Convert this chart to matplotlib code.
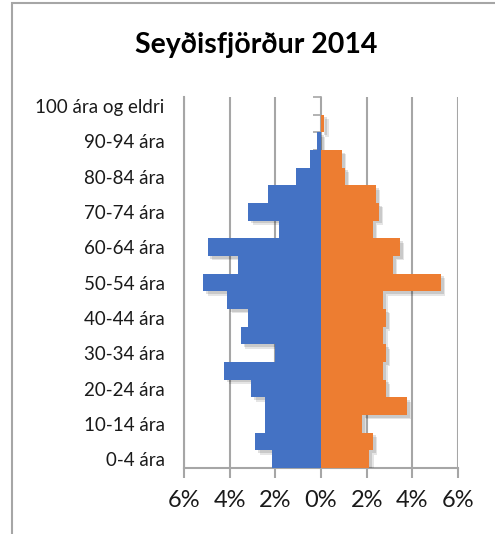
import matplotlib
matplotlib.use("Agg")
import matplotlib.pyplot as plt
import matplotlib.patheffects as pe
from matplotlib.patches import Rectangle
from matplotlib.ticker import FuncFormatter, FixedLocator

plt.rcParams['font.family'] = ['Lato', 'DejaVu Sans']

categories = ["0-4 ára", "5-9 ára", "10-14 ára", "15-19 ára", "20-24 ára", "25-29 ára",
              "30-34 ára", "35-39 ára", "40-44 ára", "45-49 ára", "50-54 ára", "55-59 ára",
              "60-64 ára", "65-69 ára", "70-74 ára", "75-79 ára", "80-84 ára", "85-89 ára",
              "90-94 ára", "95-99 ára", "100 ára og eldri"]
males = [2.13, 2.87, 2.44, 2.44, 3.05, 4.23, 2.01, 3.49, 3.18, 4.10, 5.15, 3.62,
         4.97, 1.82, 3.18, 2.30, 1.08, 0.47, 0.175, 0.0, 0.0]
females = [2.12, 2.29, 1.81, 3.78, 2.86, 2.73, 2.86, 2.73, 2.86, 2.73, 5.27, 3.15,
           3.47, 2.29, 2.55, 2.42, 1.06, 0.93, 0.0, 0.146, 0.0]
x_ticks = [-6, -4, -2, 0, 2, 4, 6]
title = "Seyðisfjörður 2014"

W, H = 495, 534
fig = plt.figure(figsize=(W / 100, H / 100), dpi=100)
ax = fig.add_axes([184 / W, 1 - 468 / H, (458 - 184) / W, (468 - 97) / H])

pos = list(range(len(categories)))
left_vals = [-v for v in males]
# soft shadows first, then bars on top so shadows only show at outer edges
for k, (off, a) in enumerate([((3, -3), 0.10), ((2, -2), 0.12)]):
    sh = [pe.SimplePatchShadow(offset=off, shadow_rgbFace='black', alpha=a)]
    ax.barh(pos, left_vals, height=1.0, color='none', zorder=2.8, path_effects=sh)
    ax.barh(pos, females, height=1.0, color='none', zorder=2.8, path_effects=sh)
ax.barh(pos, left_vals, height=1.0, color='#4472C4', zorder=3)
ax.barh(pos, females, height=1.0, color='#ED7D31', zorder=3)

ax.set_xlim(-6, 6)
ax.set_ylim(-0.5, len(categories) - 0.5)
ax.set_xticks(x_ticks)
ax.xaxis.set_major_formatter(FuncFormatter(lambda v, p: f"{abs(v):.0f}%"))
ax.grid(axis='x', color='#A6A6A6', lw=1.5)
ax.set_axisbelow(True)

ax.set_yticks(pos[::2])
ax.set_yticklabels(categories[::2])
ax.yaxis.set_minor_locator(FixedLocator([p - 0.5 for p in pos] + [pos[-1] + 0.5]))

ax.spines['top'].set_visible(False)
ax.spines['left'].set_color('#A6A6A6')
ax.spines['left'].set_linewidth(1.5)
ax.spines['bottom'].set_color('#A6A6A6')
ax.spines['bottom'].set_linewidth(1.5)
ax.spines['right'].set_position(('data', 0))
ax.spines['right'].set_color('#A6A6A6')
ax.spines['right'].set_linewidth(1.2)

ax.tick_params(axis='y', which='major', left=True, right=False, length=0, pad=14,
               labelsize=13.5, labelcolor='#1a1a1a')
ax.tick_params(axis='y', which='minor', left=False, right=True, direction='in', length=6,
               color='#A6A6A6', width=1.2)
ax.tick_params(axis='x', which='major', direction='out', length=7, color='#A6A6A6', width=1.5,
               pad=9, labelsize=17, labelcolor='#1a1a1a')

fig.text(256 / W, 1 - 45 / H, title, ha='center', va='center', fontsize=20.5, fontweight='bold',
         color='#000000')

fig.add_artist(Rectangle((12 / W, -0.1), 1.2, 1.1 - 3 / H, transform=fig.transFigure,
                         fill=False, edgecolor='#A6A6A6', lw=1.5))

fig.savefig("out.png", dpi=100)
